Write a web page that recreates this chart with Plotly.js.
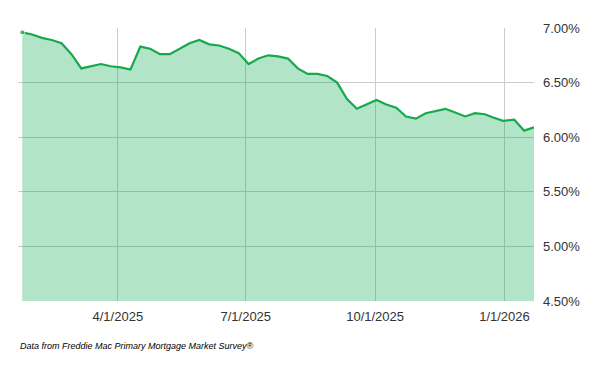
<!DOCTYPE html>
<html>
<head>
<meta charset="utf-8">
<script src="https://cdn.plot.ly/plotly-3.0.1.min.js"></script>
<style>
html,body{margin:0;padding:0;background:#fff;}
#chart{width:600px;height:371px;}
</style>
</head>
<body>
<div id="chart"></div>
<script>
// Weekly 30-year fixed rate (%), Freddie Mac PMMS
const dates = [
  "2025-01-23","2025-01-30","2025-02-06","2025-02-13","2025-02-20","2025-02-27",
  "2025-03-06","2025-03-13","2025-03-20","2025-03-27","2025-04-03","2025-04-10",
  "2025-04-17","2025-04-24","2025-05-01","2025-05-08","2025-05-15","2025-05-22",
  "2025-05-29","2025-06-05","2025-06-12","2025-06-19","2025-06-26","2025-07-03",
  "2025-07-10","2025-07-17","2025-07-24","2025-07-31","2025-08-07","2025-08-14",
  "2025-08-21","2025-08-28","2025-09-04","2025-09-11","2025-09-18","2025-09-25",
  "2025-10-02","2025-10-09","2025-10-16","2025-10-23","2025-10-30","2025-11-06",
  "2025-11-13","2025-11-20","2025-11-26","2025-12-04","2025-12-11","2025-12-18",
  "2025-12-24","2025-12-31","2026-01-08","2026-01-15","2026-01-22"
];
const rates = [
  6.96,6.94,6.91,6.89,6.86,6.76,
  6.63,6.65,6.67,6.65,6.64,6.62,
  6.83,6.81,6.76,6.76,6.81,6.86,
  6.89,6.85,6.84,6.81,6.77,6.67,
  6.72,6.75,6.74,6.72,6.63,6.58,
  6.58,6.56,6.50,6.35,6.26,6.30,
  6.34,6.30,6.27,6.19,6.17,6.22,
  6.24,6.26,6.23,6.19,6.22,6.21,
  6.18,6.15,6.16,6.06,6.09
];
const xTickVals = ["2025-04-01","2025-07-01","2025-10-01","2026-01-01"];
const xTickText = ["4/1/2025","7/1/2025","10/1/2025","1/1/2026"];
const yTickVals = [4.5,5.0,5.5,6.0,6.5,7.0];
const yTickText = yTickVals.map(v => v.toFixed(2) + "%");
const sourceNote = "Data from Freddie Mac Primary Mortgage Market Survey®";

const markerSizes = rates.map((v,i)=> i===0 ? 5 : 0);

const trace = {
  x: dates, y: rates, type: "scatter", mode: "lines+markers",
  line: {color: "#17a94b", width: 2.2, shape: "linear"},
  marker: {color: "#17a94b", size: markerSizes},
  fill: "tozeroy", fillcolor: "rgba(0,170,70,0.30)",
  hoverinfo: "x+y"
};

const layout = {
  width: 600, height: 371,
  margin: {l: 18, r: 66, t: 28, b: 70},
  paper_bgcolor: "#fff", plot_bgcolor: "#fff",
  showlegend: false,
  font: {family: "Liberation Sans, Arial, sans-serif", size: 13, color: "#333"},
  xaxis: {
    type: "date",
    range: ["2025-01-20", "2026-01-22"],
    tickvals: xTickVals, ticktext: xTickText,
    showgrid: true, gridcolor: "#cccccc", gridwidth: 1,
    zeroline: false, showline: false, ticks: "",
    ticklabelstandoff: 6,
    tickfont: {size: 13, color: "#333"}
  },
  yaxis: {
    side: "right",
    range: [4.5, 7.0],
    tickvals: yTickVals, ticktext: yTickText,
    showgrid: true, gridcolor: "#cccccc", gridwidth: 1,
    zeroline: false, showline: false, ticks: "",
    ticklabelstandoff: 8,
    tickfont: {size: 13, color: "#333"}
  },
  annotations: [{
    text: sourceNote, xref: "paper", yref: "paper",
    x: 0, y: -0.165, xanchor: "left", yanchor: "middle",
    showarrow: false,
    font: {family: "Liberation Sans, Arial, sans-serif", size: 9, style: "italic", color: "#000"}
  }]
};

Plotly.newPlot("chart", [trace], layout, {displayModeBar: false, staticPlot: true});
</script>
</body>
</html>
